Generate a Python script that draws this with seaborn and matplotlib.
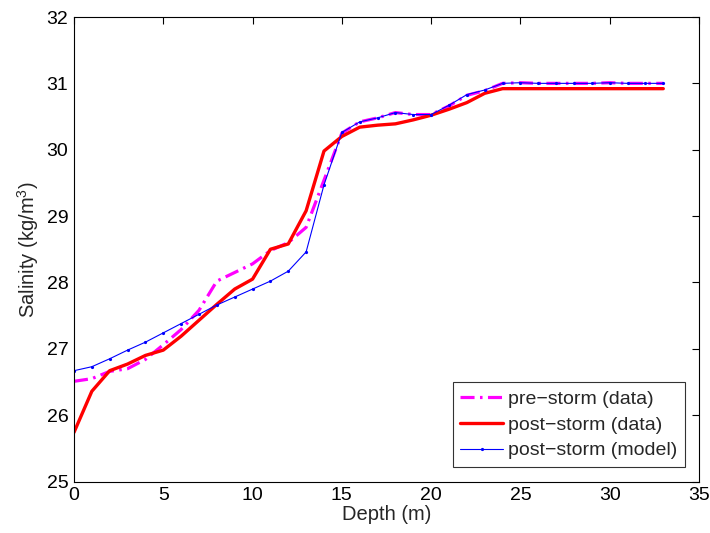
import matplotlib
matplotlib.use("Agg")
import matplotlib.pyplot as plt
import seaborn as sns
import pandas as pd

depth = list(range(0, 34))
pre_storm = [26.51, 26.55, 26.66, 26.70, 26.84, 27.06, 27.29, 27.58, 28.02, 28.15,
             28.28, 28.48, 28.60, 28.83, 29.54, 30.25, 30.42, 30.48, 30.56, 30.53,
             30.53, 30.66, 30.82, 30.89, 31.00, 31.01, 31.00, 31.00, 31.00, 31.00,
             31.01, 31.00, 31.00, 31.00]
post_storm = [25.74, 26.36, 26.67, 26.77, 26.90, 26.98, 27.19, 27.43, 27.67, 27.90,
              28.05, 28.50, 28.58, 29.08, 29.98, 30.20, 30.34, 30.37, 30.39, 30.45,
              30.52, 30.61, 30.71, 30.85, 30.92, 30.92, 30.92, 30.92, 30.92, 30.92,
              30.92, 30.92, 30.92, 30.92]
model = [26.67, 26.73, 26.85, 26.98, 27.10, 27.24, 27.38, 27.52, 27.66, 27.78,
         27.90, 28.02, 28.17, 28.46, 29.47, 30.26, 30.42, 30.48, 30.56, 30.53,
         30.53, 30.67, 30.83, 30.90, 31.00, 31.01, 31.00, 31.00, 31.00, 31.00,
         31.01, 31.00, 31.00, 31.00]
labels = ["pre\u2212storm (data)", "post\u2212storm (data)", "post\u2212storm (model)"]

sns.set_style("white")
plt.rcParams["font.family"] = ["Liberation Sans", "DejaVu Sans"]
plt.rcParams["mathtext.fontset"] = "custom"
plt.rcParams["mathtext.rm"] = "Liberation Sans"

fig = plt.figure(figsize=(7.1, 5.33), dpi=100)
ax = fig.add_axes([0.1042, 0.0966, 0.8803, 0.8715])

df = pd.DataFrame({"depth": depth, "pre": pre_storm, "post": post_storm, "model": model})

sns.lineplot(data=df, x="depth", y="pre", ax=ax, color="#ff00ff", lw=2.3,
             linestyle=(0, (4.4, 1.7, 0.8, 1.7)), label=labels[0])
sns.lineplot(data=df, x="depth", y="post", ax=ax, color="#ff0000", lw=2.4,
             label=labels[1])
sns.lineplot(data=df, x="depth", y="model", ax=ax, color="#0000ff", lw=0.8,
             marker="o", markersize=2.3, markeredgewidth=0, label=labels[2])

ax.set_xlim(0, 35)
ax.set_ylim(25, 32)
ax.set_xticks(range(0, 36, 5))
ax.set_yticks(range(25, 33))
ax.set_xlabel("Depth (m)", fontsize=14.5, labelpad=1)
ax.set_ylabel("Salinity (kg/m$^3$)", fontsize=14.5, labelpad=4)
ax.tick_params(direction="in", length=5, width=0.8, top=True, right=True,
               labelsize=14, pad=4, colors="black")
for s in ax.spines.values():
    s.set_visible(True)
    s.set_color("black")
    s.set_linewidth(0.8)

leg = ax.legend(loc="lower right", bbox_to_anchor=(0.9776, 0.031), borderaxespad=0,
                fontsize=14, frameon=True, fancybox=False, handlelength=2.2,
                labelspacing=0.42, borderpad=0.4, handletextpad=0.25)
leg.get_frame().set_edgecolor("black")
leg.get_frame().set_linewidth(0.8)

fig.savefig("out.png", dpi=100)
